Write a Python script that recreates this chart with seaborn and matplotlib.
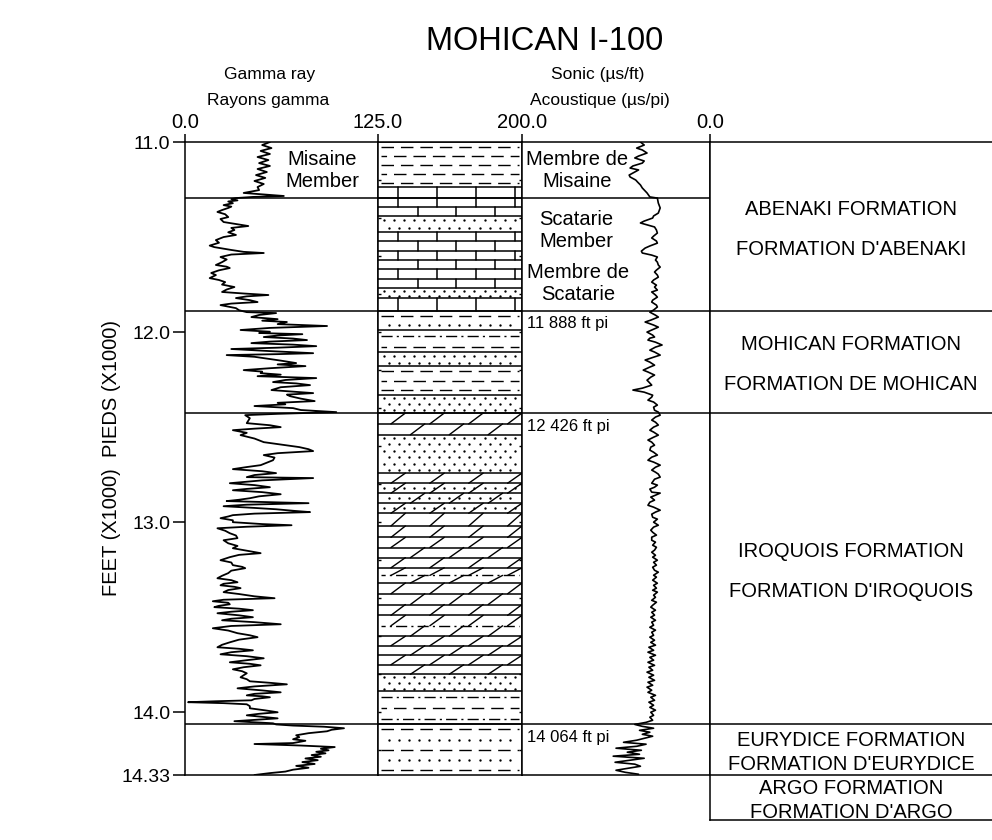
import numpy as np
import matplotlib
matplotlib.use("Agg")
import matplotlib.pyplot as plt
import seaborn as sns

# --- well data (depths in thousands of feet) ---
td = 14.33
fm_top = [11.000, 11.888, 12.426, 14.064, 14.330]
fm_en = ["ABENAKI FORMATION", "MOHICAN FORMATION", "IROQUOIS FORMATION",
         "EURYDICE FORMATION", "ARGO FORMATION"]
fm_fr = ["FORMATION D'ABENAKI", "FORMATION DE MOHICAN", "FORMATION D'IROQUOIS",
         "FORMATION D'EURYDICE", "FORMATION D'ARGO"]
member_top = [11.000, 11.295]
member_base = [11.295, 11.888]
member_en = ["Misaine\nMember", "Scatarie\nMember"]
member_fr = ["Membre de\nMisaine", "Membre de\nScatarie"]
pick_depth = [11.888, 12.426, 14.064]

lith_top = [11.000, 11.237, 11.295, 11.389, 11.474, 11.768, 11.821, 11.888, 11.989, 12.105,
            12.180, 12.330, 12.426, 12.540, 12.742, 12.795, 12.953, 13.020, 13.080, 13.240,
            13.320, 13.490, 13.600, 13.800, 13.890, 14.064]
lith_kind = ['shale', 'limestone', 'limestone', 'sand', 'limestone', 'sand', 'limestone',
             'sandy_shale', 'silty_shale', 'sand',
             'shale', 'sand', 'dolomite', 'sand', 'dolomite', 'sandy_dolomite', 'dolomite',
             'shaly_dolomite', 'dolomite', 'shaly_dolomite',
             'dolomite', 'shaly_dolomite', 'dolomite', 'sand', 'silty_shale', 'sandy_shale']

# gamma ray (API)
gr_depth = [11.000, 11.016, 11.032, 11.047, 11.063, 11.079, 11.095, 11.111, 11.126, 11.142,
            11.158, 11.174, 11.189, 11.205, 11.221, 11.237, 11.253, 11.268, 11.284, 11.289,
            11.295, 11.300, 11.307, 11.313, 11.322, 11.332, 11.340, 11.347, 11.358, 11.368,
            11.380, 11.395, 11.405, 11.421, 11.430, 11.442, 11.452, 11.463, 11.475, 11.489,
            11.500, 11.516, 11.530, 11.545, 11.553, 11.568, 11.578, 11.584, 11.592, 11.605,
            11.618, 11.632, 11.647, 11.656, 11.663, 11.675, 11.689, 11.700, 11.716, 11.726,
            11.737, 11.750, 11.763, 11.776, 11.789, 11.797, 11.805, 11.812, 11.821, 11.832,
            11.842, 11.850, 11.858, 11.866, 11.874, 11.885,
            11.895, 11.900, 11.910, 11.921, 11.932, 11.940, 11.947, 11.958, 11.968, 11.978,
            11.989, 11.998, 12.005, 12.011, 12.018, 12.026, 12.034, 12.042, 12.050, 12.058,
            12.066, 12.074, 12.082, 12.089, 12.100, 12.111, 12.116, 12.121, 12.130, 12.137,
            12.150, 12.163, 12.170, 12.179, 12.190, 12.200, 12.208, 12.216, 12.224, 12.232,
            12.242, 12.252, 12.263, 12.270, 12.279, 12.290, 12.305, 12.313, 12.321, 12.329,
            12.337, 12.350, 12.363, 12.372, 12.380, 12.389, 12.400, 12.410, 12.421,
            12.430, 12.437, 12.453, 12.479, 12.490, 12.500, 12.508, 12.516, 12.530, 12.542,
            12.560, 12.579, 12.595, 12.605, 12.616, 12.626, 12.637, 12.647, 12.660, 12.674,
            12.690, 12.700, 12.710, 12.721, 12.732, 12.742, 12.752, 12.763, 12.768, 12.780,
            12.795, 12.805, 12.816, 12.825, 12.832, 12.842, 12.853, 12.864, 12.874, 12.882,
            12.889, 12.900, 12.908, 12.916, 12.925, 12.932, 12.940, 12.947, 12.955, 12.963,
            12.970, 12.979, 12.990, 13.000, 13.010, 13.016, 13.024, 13.032, 13.045, 13.058,
            13.070, 13.084, 13.095, 13.111, 13.125, 13.137, 13.150, 13.163, 13.172, 13.184,
            13.192, 13.200, 13.212, 13.226, 13.235, 13.242, 13.255, 13.268, 13.282, 13.295,
            13.305, 13.316, 13.324, 13.332, 13.340, 13.347, 13.357, 13.368, 13.378, 13.390,
            13.400, 13.408, 13.416, 13.424, 13.432, 13.440, 13.447, 13.455, 13.463, 13.471,
            13.479, 13.490, 13.500, 13.508, 13.516, 13.526, 13.537, 13.546, 13.558, 13.570,
            13.584, 13.595, 13.605, 13.618, 13.632, 13.645, 13.658, 13.666, 13.674, 13.684,
            13.695, 13.705, 13.716, 13.726, 13.737, 13.745, 13.753, 13.763, 13.774, 13.784,
            13.795, 13.805, 13.816, 13.826, 13.837, 13.845, 13.853, 13.864, 13.874, 13.885,
            13.895, 13.903, 13.911, 13.916, 13.921, 13.930, 13.937, 13.942, 13.947, 13.952,
            13.958, 13.968, 13.979, 13.990, 14.000, 14.008, 14.016, 14.024, 14.032, 14.040,
            14.047, 14.053, 14.058, 14.064,
            14.070, 14.076, 14.084, 14.092, 14.100, 14.110, 14.121, 14.131, 14.142, 14.150,
            14.162, 14.167, 14.175, 14.183, 14.192, 14.200, 14.208, 14.216, 14.225, 14.234,
            14.243, 14.252, 14.262, 14.272, 14.282, 14.292, 14.302, 14.312, 14.320, 14.330]
gr_api = [55, 50, 56, 49, 55, 47, 54, 48, 55, 47,
          53, 46, 52, 45, 51, 47, 48, 38, 64, 44,
          33, 30, 34, 28, 31, 25, 30, 28, 24, 21,
          26, 28, 23, 25, 32, 41, 30, 32, 28, 33,
          25, 20, 22, 16, 19, 30, 38, 51, 30, 23,
          27, 24, 20, 27, 29, 22, 17, 20, 16, 22,
          26, 24, 32, 27, 24, 38, 54, 40, 33, 42,
          47, 30, 23, 28, 33, 35,
          40, 59, 48, 43, 60, 50, 66, 60, 92, 55,
          36, 55, 48, 76, 60, 51, 70, 79, 55, 43,
          70, 85, 60, 30, 55, 83, 60, 27, 45, 51,
          62, 72, 60, 78, 55, 38, 50, 49, 62, 47,
          85, 65, 57, 72, 81, 62, 56, 70, 83, 66,
          68, 75, 84, 60, 65, 45, 70, 75, 98,
          60, 39, 42, 40, 55, 62, 45, 31, 40, 36,
          45, 51, 65, 74, 80, 83, 60, 51, 58, 57,
          52, 49, 40, 31, 50, 59, 45, 40, 83, 50,
          29, 45, 55, 40, 31, 50, 62, 48, 42, 35,
          27, 80, 40, 25, 45, 59, 70, 81, 45, 31,
          28, 23, 31, 31, 50, 69, 40, 21, 26, 29,
          33, 34, 25, 28, 34, 31, 40, 49, 35, 29,
          26, 23, 30, 31, 37, 39, 30, 28, 24, 21,
          30, 34, 25, 23, 32, 36, 28, 25, 35, 45,
          58, 25, 18, 28, 29, 22, 19, 35, 44, 30,
          21, 35, 44, 30, 24, 45, 62, 30, 18, 28,
          34, 42, 47, 35, 29, 24, 21, 35, 44, 30,
          23, 40, 51, 40, 29, 42, 49, 38, 31, 37,
          40, 38, 36, 40, 42, 55, 66, 45, 34, 50,
          62, 45, 40, 50, 55, 45, 43, 20, 2, 25,
          40, 42, 42, 52, 60, 48, 40, 50, 60, 45,
          32, 45, 57, 59,
          70, 90, 103, 95, 92, 80, 72, 74, 70, 78,
          70, 45, 75, 97, 88, 93, 85, 91, 82, 88,
          78, 86, 76, 84, 72, 80, 70, 65, 55, 45]

# sonic (us/ft)
dt_depth = [11.000, 11.016, 11.032, 11.042, 11.058, 11.074, 11.084, 11.100, 11.111, 11.126,
            11.137, 11.147, 11.158, 11.174, 11.184, 11.200, 11.211, 11.226, 11.242, 11.258,
            11.268, 11.289, 11.295, 11.321, 11.347, 11.374, 11.389, 11.400, 11.416, 11.426,
            11.437, 11.447, 11.463, 11.479, 11.495, 11.505, 11.521, 11.532, 11.547, 11.558,
            11.574, 11.584, 11.595, 11.605, 11.621, 11.632, 11.647, 11.658, 11.674, 11.684,
            11.700, 11.711, 11.726, 11.737, 11.753, 11.763, 11.779, 11.789, 11.805, 11.816,
            11.832, 11.842, 11.858, 11.868, 11.884,
            11.895, 11.911, 11.921, 11.937, 11.947, 11.963, 11.974, 11.989, 12.000, 12.016,
            12.026, 12.032, 12.042, 12.053, 12.068, 12.079, 12.095, 12.105, 12.121, 12.132,
            12.147, 12.158, 12.174, 12.184, 12.200, 12.210, 12.226, 12.237, 12.253, 12.263,
            12.279, 12.295, 12.305, 12.316, 12.332, 12.342, 12.358, 12.368, 12.384, 12.395,
            12.411, 12.421,
            12.437, 12.447, 12.463, 12.474, 12.489, 12.500, 12.516, 12.526, 12.542, 12.553,
            12.568, 12.579, 12.595, 12.605, 12.621, 12.632, 12.647, 12.658, 12.674, 12.684,
            12.700, 12.711, 12.726, 12.737, 12.747, 12.763, 12.774, 12.795, 12.805, 12.816,
            12.826, 12.842, 12.847, 12.858, 12.868, 12.884, 12.895, 12.911, 12.921, 12.937,
            12.947, 12.958, 12.974, 12.984, 13.000, 13.016, 13.026, 13.042, 13.053, 13.068,
            13.079, 13.095, 13.105, 13.121, 13.132, 13.147, 13.158, 13.174, 13.184, 13.200,
            13.211, 13.226, 13.237, 13.253, 13.263, 13.279, 13.289, 13.305, 13.321, 13.332,
            13.347, 13.358, 13.368, 13.384, 13.395, 13.411, 13.421, 13.437, 13.447, 13.463,
            13.474, 13.489, 13.500, 13.516, 13.526, 13.542, 13.553, 13.568, 13.579, 13.595,
            13.605, 13.621, 13.632, 13.647, 13.658, 13.674, 13.684, 13.700, 13.711, 13.726,
            13.737, 13.753, 13.763, 13.779, 13.789, 13.805, 13.816, 13.832, 13.842, 13.858,
            13.868, 13.884, 13.895, 13.911, 13.921, 13.937, 13.947, 13.963, 13.974, 13.989,
            14.000, 14.016, 14.026, 14.042, 14.053,
            14.064, 14.074, 14.084, 14.095, 14.105, 14.116, 14.126, 14.137, 14.147, 14.158,
            14.168, 14.179, 14.189, 14.200, 14.210, 14.221, 14.231, 14.242, 14.252, 14.263,
            14.273, 14.284, 14.295, 14.305, 14.316, 14.326]
dt_us = [74, 70, 78, 72, 67, 76, 80, 70, 72, 82,
         85, 76, 80, 86, 85, 79, 77, 74, 72, 69,
         67, 64, 56, 55, 53, 55, 60, 61, 70, 74,
         66, 59, 57, 56, 60, 62, 57, 56, 64, 69,
         73, 72, 62, 56, 58, 56, 55, 53, 57, 59,
         56, 55, 60, 62, 57, 59, 56, 62, 58, 56,
         61, 62, 57, 56, 60,
         64, 58, 55, 63, 69, 60, 55, 62, 67, 61,
         59, 64, 66, 58, 51, 58, 64, 59, 53, 60,
         69, 64, 59, 64, 71, 66, 59, 63, 67, 65,
         62, 72, 82, 70, 61, 62, 66, 60, 56, 60,
         59, 55,
         53, 58, 62, 58, 55, 60, 64, 60, 55, 60,
         66, 62, 59, 63, 64, 60, 56, 62, 66, 60,
         53, 58, 62, 58, 55, 53, 59, 62, 56, 59,
         64, 62, 53, 58, 63, 59, 64, 66, 60, 53,
         58, 62, 61, 56, 60, 55, 60, 63, 61, 57,
         62, 62, 58, 61, 57, 59, 62, 58, 61, 56,
         60, 57, 61, 59, 55, 60, 57, 61, 56, 60,
         57, 61, 56, 60, 58, 62, 57, 61, 63, 58,
         62, 59, 63, 58, 62, 60, 64, 58, 62, 60,
         64, 59, 63, 58, 65, 60, 66, 58, 64, 60,
         66, 59, 65, 61, 67, 60, 65, 59, 66, 61,
         67, 62, 66, 58, 63, 59, 65, 60, 64, 58,
         63, 60, 64, 61, 68,
         80, 72, 60, 75, 64, 72, 61, 70, 78, 92,
         68, 78, 100, 73, 88, 75, 103, 70, 85, 101,
         80, 74, 88, 100, 90, 76]

# --- figure ---
sns.set_style("white")
plt.rcParams['font.family'] = ['Liberation Sans', 'DejaVu Sans']
plt.rcParams['text.color'] = 'black'
plt.rcParams['xtick.color'] = 'black'
plt.rcParams['ytick.color'] = 'black'
plt.rcParams['axes.labelcolor'] = 'black'

W, H = 992, 840
fig = plt.figure(figsize=(W / 100, H / 100), dpi=100)


def box(x0, x1, y0, y1):
    return [x0 / W, 1 - y1 / H, (x1 - x0) / W, (y1 - y0) / H]


ax_gr = fig.add_axes(box(185, 378, 142, 775))
ax_li = fig.add_axes(box(378, 522, 142, 775))
ax_dt = fig.add_axes(box(522, 710, 142, 775))
ax_fm = fig.add_axes(box(710, 992, 142, 820))
box_base = 11.0 + (820 - 142) / (775 - 142) * (td - 11.0)

LW = 1.1
for ax in (ax_gr, ax_li, ax_dt, ax_fm):
    for s in ax.spines.values():
        s.set_color('black')
        s.set_linewidth(LW)
ax_fm.spines['right'].set_visible(False)

# curves
sns.lineplot(x=gr_api, y=gr_depth, orient='y', sort=False, estimator=None,
             color='black', lw=1.3, ax=ax_gr)
sns.lineplot(x=dt_us, y=dt_depth, orient='y', sort=False, estimator=None,
             color='black', lw=1.2, ax=ax_dt)


# lithology column
def dash_row(ax, y, k, style):
    pat = (9, 5) if style == 'dash' else (8, 3, 1.5, 3)
    ax.plot([0.02, 0.98], [y, y], color='black', lw=1.0, ls=(5 * (k % 2), pat))


def dot_row(ax, y, k):
    xs = np.arange(0.04 + 0.035 * (k % 2), 0.98, 0.07)
    ax.plot(xs, np.full(len(xs), y), ls='none', marker='o', ms=1.7,
            mew=0, color='black')


def draw_lith(ax, top, base, kind):
    ax.axhline(top, color='black', lw=LW)
    if kind == 'sand':
        n = max(1, int(round((base - top) / 0.035)))
        for k in range(n):
            dot_row(ax, top + (k + 0.5) * (base - top) / n, k)
        return
    n = max(1, int(round((base - top) / 0.05)))
    edges = np.linspace(top, base, n + 1)
    for k in range(n):
        a, b = edges[k], edges[k + 1]
        c = (a + b) / 2
        if kind == 'shale':
            dash_row(ax, c, k, 'dash')
        elif kind == 'silty_shale':
            dash_row(ax, c, k, 'dashdot' if k % 2 == 0 else 'dash')
        elif kind == 'sandy_shale':
            if k % 2 == 0:
                dash_row(ax, c, k, 'dash')
            else:
                dot_row(ax, c, k)
        else:
            if k > 0:
                if kind == 'shaly_dolomite':
                    dash_row(ax, a, k, 'dashdot')
                else:
                    ax.axhline(a, color='black', lw=LW)
            for x in np.arange(0.14 + 0.135 * (k % 2), 0.99, 0.27):
                if kind == 'limestone':
                    ax.plot([x, x], [a, b], color='black', lw=LW)
                else:
                    ax.plot([x - 0.05, x + 0.05], [b, a], color='black', lw=1.0)
            if kind == 'sandy_dolomite':
                dot_row(ax, c, k)


lith_base = lith_top[1:] + [td]
for t, b, kind in zip(lith_top, lith_base, lith_kind):
    draw_lith(ax_li, t, b, kind)

# formation and member boundaries
for ax in (ax_gr, ax_li, ax_dt):
    for d in [member_base[0]] + fm_top[1:4]:
        ax.axhline(d, color='black', lw=LW)
for d in fm_top[1:]:
    ax_fm.axhline(d, color='black', lw=LW)

# limits and ticks
ax_gr.set_xlim(0, 125)
ax_dt.set_xlim(200, 0)
ax_li.set_xlim(0, 1)
ax_fm.set_xlim(0, 1)
for ax in (ax_gr, ax_li, ax_dt):
    ax.set_ylim(td, 11.0)
ax_fm.set_ylim(box_base, 11.0)
for ax in (ax_gr, ax_li, ax_dt, ax_fm):
    ax.set_xlabel('')
    ax.set_ylabel('')

ax_gr.xaxis.tick_top()
ax_gr.set_xticks([0, 125])
ax_gr.set_xticklabels(['0.0', '125.0'])
ax_dt.xaxis.tick_top()
ax_dt.set_xticks([200, 0])
ax_dt.set_xticklabels(['200.0', '0.0'])
for ax in (ax_gr, ax_dt):
    ax.tick_params(axis='x', top=True, bottom=False, length=6, width=LW,
                   pad=1, labelsize=14.5, direction='out')

ytk = [11.0, 12.0, 13.0, 14.0, td]
ax_gr.set_yticks(ytk)
ax_gr.set_yticklabels(['11.0', '12.0', '13.0', '14.0', '14.33'])
ax_gr.tick_params(axis='y', left=True, length=9, width=LW, pad=1.5,
                  labelsize=14, direction='out')

ax_li.set_xticks([])
ax_li.set_yticks([])
ax_li.set_yticks(np.arange(11.2, 14.3, 0.2), minor=True)
ax_li.tick_params(axis='y', which='minor', left=True, right=True,
                  direction='in', length=2.5, width=1.0, labelleft=False)
ax_dt.set_yticks([])
ax_fm.set_xticks([])
ax_fm.set_yticks([])

# labels in tracks
ax_gr.text(0.71, (member_top[0] + member_base[0]) / 2, member_en[0],
           transform=ax_gr.get_yaxis_transform(), ha='center', va='center',
           fontsize=14.5)
ax_dt.text(0.295, (member_top[0] + member_base[0]) / 2, member_fr[0],
           transform=ax_dt.get_yaxis_transform(), ha='center', va='center',
           fontsize=14.5)
mid = (member_top[1] + member_base[1]) / 2
ax_dt.text(0.29, mid - 0.128, member_en[1], transform=ax_dt.get_yaxis_transform(),
           ha='center', va='center', fontsize=14.5)
ax_dt.text(0.30, mid + 0.152, member_fr[1], transform=ax_dt.get_yaxis_transform(),
           ha='center', va='center', fontsize=14.5)

for d in pick_depth:
    ft = int(round(d * 1000))
    ax_dt.annotate(f"{ft // 1000} {ft % 1000:03d} ft pi", (0.027, d),
                   xycoords=ax_dt.get_yaxis_transform(), xytext=(0, -4),
                   textcoords='offset points', ha='left', va='top', fontsize=12)

fm_base = fm_top[1:] + [box_base]
for t, b, en, fr in zip(fm_top, fm_base, fm_en, fm_fr):
    m = (t + b) / 2 + 0.015
    g = 0.105 if b - t > 0.4 else 0.063
    ax_fm.text(0.5, m - g, en, ha='center', va='center', fontsize=14.5)
    ax_fm.text(0.5, m + g, fr, ha='center', va='center', fontsize=14.5)

# headers
fig.text(545 / W, 1 - 42 / H, "MOHICAN I-100", ha='center', va='center', fontsize=23.5)
fig.text(270 / W, 1 - 74 / H, "Gamma ray", ha='center', va='center', fontsize=12.5)
fig.text(268 / W, 1 - 101 / H, "Rayons gamma", ha='center', va='center', fontsize=12.5)
fig.text(598 / W, 1 - 74 / H, "Sonic (µs/ft)", ha='center', va='center', fontsize=12.5)
fig.text(600 / W, 1 - 101 / H, "Acoustique (µs/pi)", ha='center', va='center',
         fontsize=12.5)
fig.text(112 / W, 1 - 458 / H, "FEET (X1000)  PIEDS (X1000)", rotation=90,
         ha='center', va='center', fontsize=14.5)

fig.savefig("out.png", dpi=100, facecolor='white')
